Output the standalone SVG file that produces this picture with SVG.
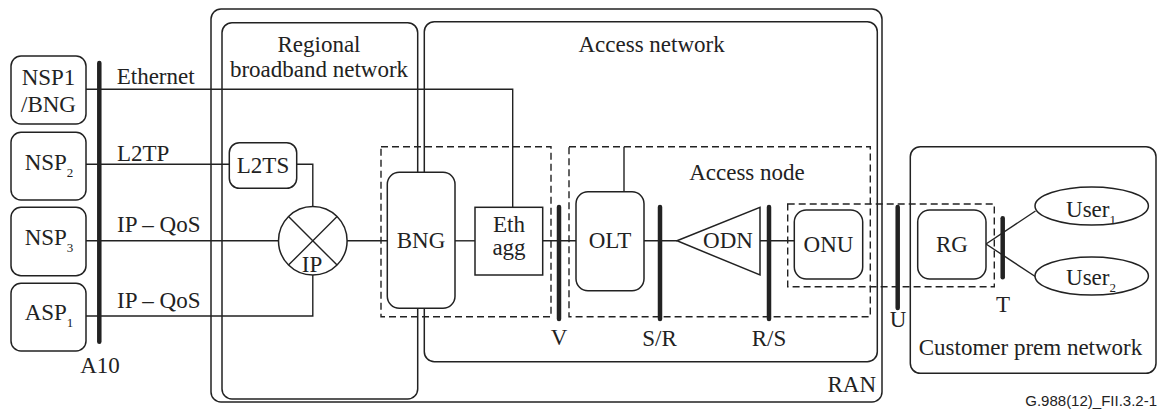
<svg xmlns="http://www.w3.org/2000/svg" width="1166" height="410" viewBox="0 0 1166 410">
<defs>
<style>
.box{fill:none;stroke:#222;stroke-width:1.5}
.node{fill:#fff;stroke:#222;stroke-width:1.5}
.dash{fill:none;stroke:#222;stroke-width:1.4;stroke-dasharray:7 4}
.ln{fill:none;stroke:#222;stroke-width:1.4}
.bar{stroke:#222;stroke-width:4.5;stroke-linecap:round}
text{font-family:"Liberation Serif","Times New Roman",serif;font-size:23px;fill:#222}
.c{text-anchor:middle}
.sub{font-size:13px}
.foot{font-family:"Liberation Sans",Arial,sans-serif;font-size:15px;text-anchor:end}
</style>
</defs>
<rect width="1166" height="410" fill="#fff"/>
<g id="containers">
<rect id="ran" class="box" x="211" y="9" width="671" height="393" rx="10"/>
<rect id="regional" class="box" x="222" y="22.7" width="195.7" height="376.3" rx="10"/>
<rect id="access" class="box" x="424.3" y="21.7" width="453" height="340" rx="10"/>
<rect id="customer" class="box" x="910.3" y="146.7" width="245.7" height="226.6" rx="10"/>
</g>
<g id="connectors">
<polyline class="ln" points="86,89.3 512.7,89.3 512.7,207.3"/>
<line class="ln" x1="86" y1="164.3" x2="229.3" y2="164.3"/>
<polyline class="ln" points="296.7,164.3 312.8,164.3 312.8,206.7"/>
<line class="ln" x1="86" y1="240.8" x2="278.5" y2="240.8"/>
<polyline class="ln" points="86,316 312.8,316 312.8,275"/>
<line class="ln" x1="347" y1="240.8" x2="387.3" y2="240.8"/>
<line class="ln" x1="455" y1="240.8" x2="475" y2="240.8"/>
<line class="ln" x1="542.7" y1="240.8" x2="576" y2="240.8"/>
<line class="ln" x1="624" y1="191.7" x2="624" y2="146.7"/>
<line class="ln" x1="644" y1="240.8" x2="677" y2="240.8"/>
<line class="ln" x1="760" y1="240.8" x2="794.3" y2="240.8"/>
<line class="ln" x1="986" y1="244" x2="1035.5" y2="211"/>
<line class="ln" x1="986" y1="244" x2="1036" y2="277"/>
</g>
<g id="groups">
<rect class="dash" x="381" y="146.7" width="170" height="170"/>
<rect class="dash" x="569" y="146.7" width="301.3" height="170"/>
<rect class="dash" x="787.7" y="204" width="206.6" height="82.7"/>
</g>
<g id="nsp1"><rect class="node" x="11" y="56" width="75" height="68" rx="10"/><text class="c" x="48.5" y="85">NSP1</text><text class="c" x="48.5" y="111.7">/BNG</text></g>
<g id="nsp2"><rect class="node" x="11" y="132.3" width="75" height="67.7" rx="10"/><text class="c" x="49" y="170">NSP<tspan class="sub" dy="6.5">2</tspan></text></g>
<g id="nsp3"><rect class="node" x="11" y="207.3" width="75" height="68.4" rx="10"/><text class="c" x="49" y="245">NSP<tspan class="sub" dy="6.5">3</tspan></text></g>
<g id="asp1"><rect class="node" x="11" y="283.3" width="75" height="67.7" rx="10"/><text class="c" x="49" y="320">ASP<tspan class="sub" dy="6.5">1</tspan></text></g>
<g id="l2ts"><rect class="node" x="229.3" y="142.7" width="67.4" height="45.6" rx="10"/><text class="c" x="263" y="173">L2TS</text></g>
<g id="ip"><circle class="node" cx="312.8" cy="240.8" r="34.3"/><line class="ln" x1="288.5" y1="216.5" x2="337.1" y2="265.1"/><line class="ln" x1="337.1" y1="216.5" x2="288.5" y2="265.1"/><text class="c" x="312" y="271.5">IP</text></g>
<g id="bng"><rect class="node" x="387.3" y="172.3" width="67.7" height="136" rx="12"/><text class="c" x="421" y="248">BNG</text></g>
<g id="ethagg"><rect class="node" x="475" y="207.3" width="67.7" height="67.7"/><text class="c" x="509" y="232">Eth</text><text class="c" x="509" y="255">agg</text></g>
<g id="olt"><rect class="node" x="576" y="191.7" width="68" height="99" rx="12"/><text class="c" x="610" y="248">OLT</text></g>
<g id="odn"><polygon class="node" points="677,240.8 760,207.3 760,275"/><text class="c" x="728" y="248">ODN</text></g>
<g id="onu"><rect class="node" x="794.3" y="210" width="68.4" height="69" rx="12"/><text class="c" x="828.5" y="252">ONU</text></g>
<g id="rg"><rect class="node" x="917.7" y="210" width="68.3" height="69" rx="12"/><text class="c" x="952" y="252">RG</text></g>
<g id="user1"><ellipse class="node" cx="1091.7" cy="206" rx="56.7" ry="19"/><text class="c" x="1091" y="216.5">User<tspan class="sub" dy="7">1</tspan></text></g>
<g id="user2"><ellipse class="node" cx="1091.7" cy="276" rx="56.7" ry="19"/><text class="c" x="1091" y="285">User<tspan class="sub" dy="7">2</tspan></text></g>
<g id="refpoints">
<line class="bar" x1="99.3" y1="63" x2="99.3" y2="341.7"/>
<line class="bar" x1="559" y1="207" x2="559" y2="319"/>
<line class="bar" x1="660" y1="207" x2="660" y2="319"/>
<line class="bar" x1="769" y1="207" x2="769" y2="319"/>
<line class="bar" x1="897.7" y1="207" x2="897.7" y2="308"/>
<line class="bar" x1="1002.7" y1="218.3" x2="1002.7" y2="277.3"/>
</g>
<g id="labels">
<text class="c" x="319" y="51.7">Regional</text>
<text class="c" x="319" y="76.7">broadband network</text>
<text class="c" x="651.6" y="52">Access network</text>
<text class="c" x="747" y="180">Access node</text>
<text x="116.7" y="84">Ethernet</text>
<text x="117" y="161">L2TP</text>
<text x="117" y="232.3">IP – QoS</text>
<text x="117" y="308.3">IP – QoS</text>
<text class="c" x="100" y="373.3">A10</text>
<text class="c" x="559" y="345">V</text>
<text class="c" x="659.5" y="345.5">S/R</text>
<text class="c" x="769" y="345.5">R/S</text>
<text class="c" x="898" y="326.7">U</text>
<text class="c" x="1003" y="311.7">T</text>
<text class="c" x="1030.5" y="355">Customer prem network</text>
<text x="876" y="391.7" text-anchor="end">RAN</text>
<text class="foot" x="1157" y="406">G.988(12)_FII.3.2-1</text>
</g>
</svg>
